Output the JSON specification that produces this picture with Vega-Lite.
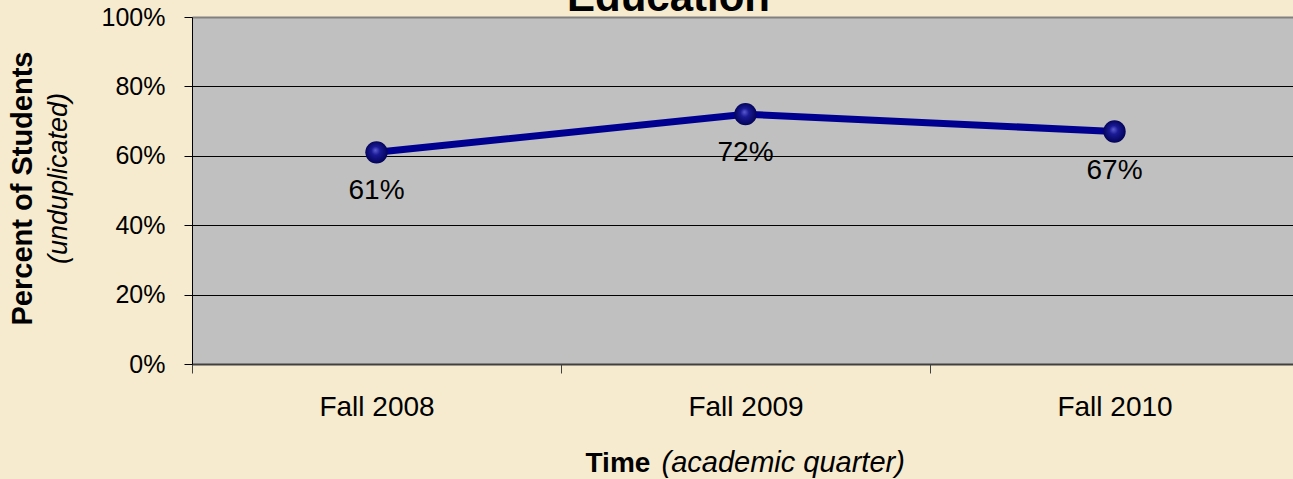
{
  "$schema": "https://vega.github.io/schema/vega-lite/v6.json",
  "width": 1101,
  "height": 347,
  "autosize": {"type": "none"},
  "padding": {"left": 192, "top": 17, "right": 0, "bottom": 115},
  "background": "#F6EBCF",
  "config": {
    "font": "Liberation Sans",
    "view": {"fill": "#C0C0C0", "stroke": null},
    "axis": {"labelFont": "Liberation Sans", "titleFont": "Liberation Sans", "labelColor": "#000000", "titleColor": "#000000"}
  },
  "title": {
    "text": "Education",
    "font": "Liberation Sans",
    "fontSize": 42,
    "fontWeight": "bold",
    "color": "#000000",
    "anchor": "middle",
    "baseline": "alphabetic",
    "offset": 0,
    "dx": -74,
    "dy": 48
  },
  "data": {
    "values": [
      {"term": "Fall 2008", "pct": 0.61},
      {"term": "Fall 2009", "pct": 0.72},
      {"term": "Fall 2010", "pct": 0.67}
    ]
  },
  "layer": [
    {
      "mark": {
        "type": "line",
        "color": "#000090",
        "strokeWidth": 7,
        "point": {
          "filled": true,
          "size": 500,
          "opacity": 1,
          "fill": {
            "gradient": "radial",
            "x1": 0.45, "y1": 0.4, "r1": 0,
            "x2": 0.5, "y2": 0.5, "r2": 0.55,
            "stops": [
              {"offset": 0, "color": "#5c5cd0"},
              {"offset": 0.35, "color": "#1a1a96"},
              {"offset": 1, "color": "#000050"}
            ]
          }
        }
      },
      "encoding": {
        "x": {
          "field": "term",
          "type": "ordinal",
          "bandPosition": 0.5,
          "scale": {"type": "band", "paddingInner": 0, "paddingOuter": 0, "range": [0, 1107]},
          "axis": {
            "title": "Time",
            "titleFontWeight": "bold",
            "titleFontSize": 28,
            "titleAlign": "left",
            "titleBaseline": "alphabetic",
            "titleX": 393,
            "titleY": 107,
            "labelFontSize": 28,
            "labelAngle": 0,
            "labelPadding": 20,
            "tickBand": "extent",
            "tickSize": 9,
            "tickColor": "#404040",
            "tickWidth": 1,
            "domainColor": "#404040",
            "domainWidth": 2,
            "grid": false
          }
        },
        "y": {
          "field": "pct",
          "type": "quantitative",
          "scale": {"domain": [0, 1]},
          "axis": {
            "title": "Percent of Students",
            "titleFontWeight": "bold",
            "titleFontSize": 29,
            "titleAngle": -90,
            "titleAlign": "center",
            "titleBaseline": "middle",
            "titleX": -170,
            "titleY": 171,
            "format": ".0%",
            "values": [0, 0.2, 0.4, 0.6, 0.8, 1],
            "labelFontSize": 25,
            "labelPadding": 19,
            "tickSize": 8,
            "tickColor": "#000000",
            "domainColor": "#000000",
            "domainWidth": 1,
            "grid": true,
            "gridColor": {"condition": {"test": "datum.value === 1", "value": "#808080"}, "value": "#000000"},
            "gridWidth": {"condition": {"test": "datum.value === 1", "value": 2}, "value": 1}
          }
        }
      }
    },
    {
      "mark": {"type": "text", "dy": 39, "baseline": "middle", "align": "center", "fontSize": 28, "font": "Liberation Sans", "color": "#000000"},
      "encoding": {
        "x": {
          "field": "term",
          "type": "ordinal",
          "bandPosition": 0.5,
          "scale": {"type": "band", "paddingInner": 0, "paddingOuter": 0, "range": [0, 1107]},
          "axis": {
            "orient": "bottom",
            "title": "(academic quarter)",
            "titleFontStyle": "italic",
            "titleFontWeight": "normal",
            "titleFontSize": 29,
            "titleAlign": "left",
            "titleBaseline": "alphabetic",
            "titleX": 469,
            "titleY": 107,
            "labels": false,
            "ticks": false,
            "domain": false,
            "grid": false
          }
        },
        "y": {
          "field": "pct",
          "type": "quantitative",
          "scale": {"domain": [0, 1]},
          "axis": {
            "orient": "left",
            "title": "(unduplicated)",
            "titleFontStyle": "italic",
            "titleFontWeight": "normal",
            "titleFontSize": 27,
            "titleAngle": -90,
            "titleAlign": "center",
            "titleBaseline": "middle",
            "titleX": -134,
            "titleY": 161,
            "labels": false,
            "ticks": false,
            "domain": false,
            "grid": false
          }
        },
        "text": {"field": "pct", "type": "quantitative", "format": ".0%"}
      }
    }
  ],
  "resolve": {"axis": {"x": "independent", "y": "independent"}}
}
